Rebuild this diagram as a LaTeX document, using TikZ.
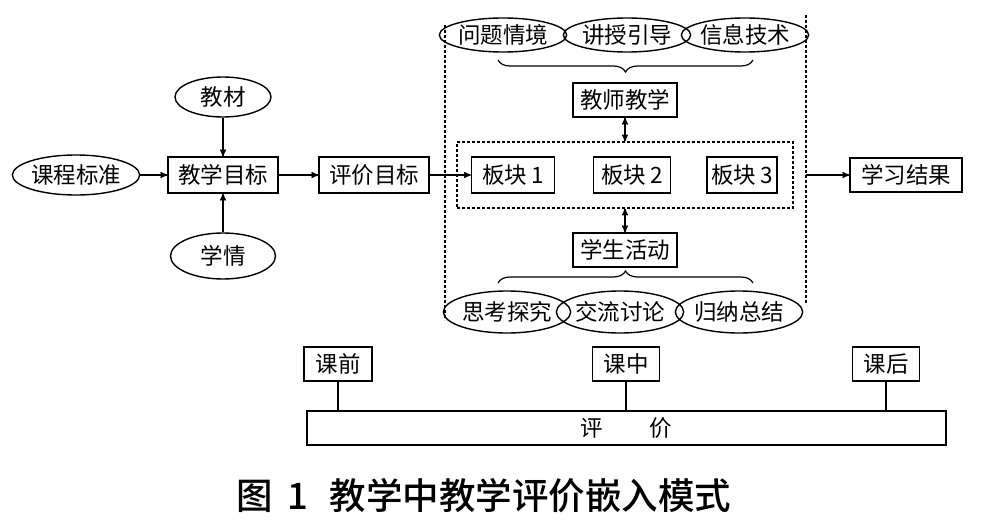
\documentclass[tikz,border=0pt]{standalone}
\usepackage{fontspec}
\setmainfont{Noto Sans CJK SC}
\newfontfamily\titlefont{Noto Sans CJK SC Medium}
\usetikzlibrary{arrows,shapes.geometric,decorations.pathreplacing}

\begin{document}
\begin{tikzpicture}[x=1pt,y=-1pt,->,>=stealth',shorten >=0pt,line width=1.4pt,node distance=150pt,
  main node/.style={rectangle,draw,font=\fontsize{22.5}{24}\selectfont,inner sep=0pt,minimum height=36pt},
  oval node/.style={ellipse,draw,font=\fontsize{22.5}{24}\selectfont,inner sep=0pt,minimum height=40pt},
  zone box/.style={rectangle,draw,dash pattern=on 3pt off 2pt,line width=1.2pt,inner sep=0pt},
  zone line/.style={-,dash pattern=on 3pt off 2pt,line width=1.2pt},
  brace line/.style={-,line width=1.2pt,decorate,decoration={brace,amplitude=12pt}}]

  \useasboundingbox (0,0) rectangle (1000,519);

  % left part
  \node[oval node,minimum width=103pt] (std) at (76,175) {课程标准};
  \node[main node,minimum width=110pt] (goal) [right of=std,node distance=147pt] {教学目标};
  \node[main node,minimum width=110pt] (eval) [right of=goal,node distance=151pt] {评价目标};
  \node[oval node,minimum width=96pt] (book) [above of=goal,node distance=78pt] {教材};
  \node[oval node,minimum width=105pt,minimum height=46pt] (learner) [below of=goal,node distance=81pt] {学情};

  % middle part
  \draw[zone line] (445,25) -- (445,320);
  \draw[zone line] (806,15) -- (806,305);
  \node[zone box,minimum width=336pt,minimum height=66pt] (blocks) at (625,175) {};
  \node[main node,minimum width=83pt] (b1) at (513,175) {板块\,1};
  \node[main node,minimum width=77pt] (b2) [right of=b1,node distance=119pt] {板块\,2};
  \node[main node,minimum width=70pt] (b3) [right of=b2,node distance=110pt] {板块\,3};
  \node[main node,minimum width=104pt,minimum height=34pt] (teach) at (625,100) {教师教学};
  \node[main node,minimum width=104pt,minimum height=34pt] (act) at (625,250) {学生活动};

  \node[oval node,minimum width=110pt,minimum height=34pt] (t1) at (503,35) {问题情境};
  \node[oval node,minimum width=120pt,minimum height=34pt] (t2) at (627,35) {讲授引导};
  \node[oval node,minimum width=115pt,minimum height=34pt] (t3) at (745,35) {信息技术};
  \node[oval node,minimum width=105pt,minimum height=42pt] (s1) at (507,312) {思考探究};
  \node[oval node,minimum width=110pt,minimum height=42pt] (s2) at (620,312) {交流讨论};
  \node[oval node,minimum width=112pt,minimum height=42pt] (s3) at (739,312) {归纳总结};

  \coordinate (tl) at (498,60);
  \coordinate (tr) at (753,60);
  \coordinate (bl) at (498,283);
  \coordinate (br) at (753,283);
  \draw[brace line,decoration={mirror}] (tl) -- (tr);
  \draw[brace line] (bl) -- (br);

  % right part
  \coordinate (out) at (806,175);
  \node[main node,minimum width=112pt,minimum height=34pt] (result) at (906,175) {学习结果};

  % bottom part
  \node[main node,minimum width=639pt,minimum height=34pt] (pj) at (626.5,428) {评\hspace{47pt}价};
  \node[main node,minimum width=68pt,minimum height=34pt] (kq) at (338,364) {课前};
  \node[main node,minimum width=67pt,minimum height=34pt] (kz) at (626,364) {课中};
  \node[main node,minimum width=67pt,minimum height=34pt] (kh) at (886,364) {课后};

  \node[font=\titlefont\fontsize{36.5}{40}\selectfont] (title) at (484,496) {图\hspace{14pt}1\hspace{22pt}教学中教学评价嵌入模式};

  \path
       (std) edge (goal)
       (book) edge (goal)
       (learner) edge (goal)
       (goal) edge (eval)
       (eval) edge (b1)
       (out) edge (result);
  \path[<->]
       (teach) edge (blocks)
       (act) edge (blocks);
  \path[-]
       (kq) edge (kq |- pj.north)
       (kz) edge (kz |- pj.north)
       (kh) edge (kh |- pj.north);
\end{tikzpicture}
\end{document}
